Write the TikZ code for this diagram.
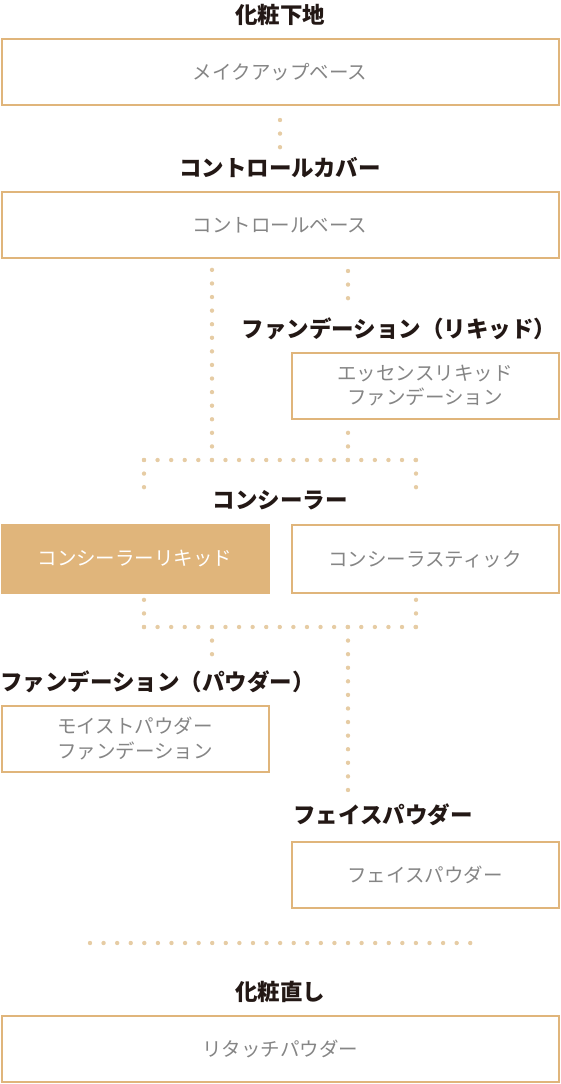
\documentclass[tikz,border=0pt]{standalone}
\usepackage{fontspec}
\setmainfont{Noto Sans CJK JP}
\usetikzlibrary{positioning}
\definecolor{kBeige}{HTML}{E0B57B}
\definecolor{kDot}{HTML}{E6CCA4}
\definecolor{kGray}{HTML}{858585}
\definecolor{kInk}{HTML}{231815}

\begin{document}
\begin{tikzpicture}[
  x=1pt, y=-1pt,
  box/.style={draw=kBeige, line width=2pt, minimum height=66pt, align=center, font=\fontsize{19.5}{24.5}\selectfont, text=kGray, inner sep=0pt},
  wide/.style={box, minimum width=557pt},
  half/.style={box, minimum width=267pt},
  head/.style={font=\fontsize{22.5}{26}\selectfont\bfseries, text=kInk, inner sep=0pt},
  dots/.style={draw=kDot, line width=4.4pt, line cap=round, dash pattern=on 0pt off 13.58pt}
]
\useasboundingbox (0,0) rectangle (560,1084);

% headings
\node[head] (hBase) at (280,15) {化粧下地};
\node[head] (hCtrl) at (280,168) {コントロールカバー};
\node[head] (hLiq) at (399,329) {ファンデーション（リキッド）};
\node[head] (hConc) at (280,500) {コンシーラー};
\node[head, anchor=west] (hPow) at (0,682) {ファンデーション（パウダー）};
\node[head] (hFace) at (383,815) {フェイスパウダー};
\node[head] (hRetouch) at (280,992) {化粧直し};

% items
\node[wide] (bBase) at (280,72) {メイクアップベース};
\node[wide] (bCtrl) at (280,225) {コントロールベース};
\node[half] (bLiq) at (425,385.5) {エッセンスリキッド\\ファンデーション};
\node[half, minimum height=68pt, fill=kBeige, text=white] (bConcL) at (135,559) {コンシーラーリキッド};
\node[half, minimum height=68pt] (bConcS) at (425,559) {コンシーラスティック};
\node[half] (bPow) at (135,738.5) {モイストパウダー\\ファンデーション};
\node[half] (bFace) at (425,874.5) {フェイスパウダー};
\node[wide] (bRetouch) at (280,1048.5) {リタッチパウダー};

% junctions
\coordinate (jA) at (212,460);
\coordinate (jB) at (348,460);
\coordinate (jL) at (144,460);
\coordinate (jR) at (416,460);
\coordinate (kA) at (212,627);
\coordinate (kB) at (348,627);
\coordinate (kL) at (144,627);
\coordinate (kR) at (416,627);
\coordinate (sBase) at (280,120);
\coordinate (sCtrl) at (348,271);
\coordinate (sLine) at (90,943);
\coordinate (eLine) at (471,943);

\draw[dots] (sBase) -- ++(0,27.5);
\draw[dots] (jA) -- (212,269);
\draw[dots] (sCtrl) -- ++(0,27.5);
\draw[dots] (jB) -- (348,432.5);
\draw[dots] (jL) -- (jR);
\draw[dots] (jL) -- (144,487.5);
\draw[dots] (jR) -- (416,487.5);
\draw[dots] (kL) -- (144,599.5);
\draw[dots] (kR) -- (416,599.5);
\draw[dots] (kL) -- (kR);
\draw[dots] (kA) -- (212,654.5);
\draw[dots] (kB) -- (348,790.5);
\draw[dots] (sLine) -- (eLine);
\end{tikzpicture}
\end{document}
